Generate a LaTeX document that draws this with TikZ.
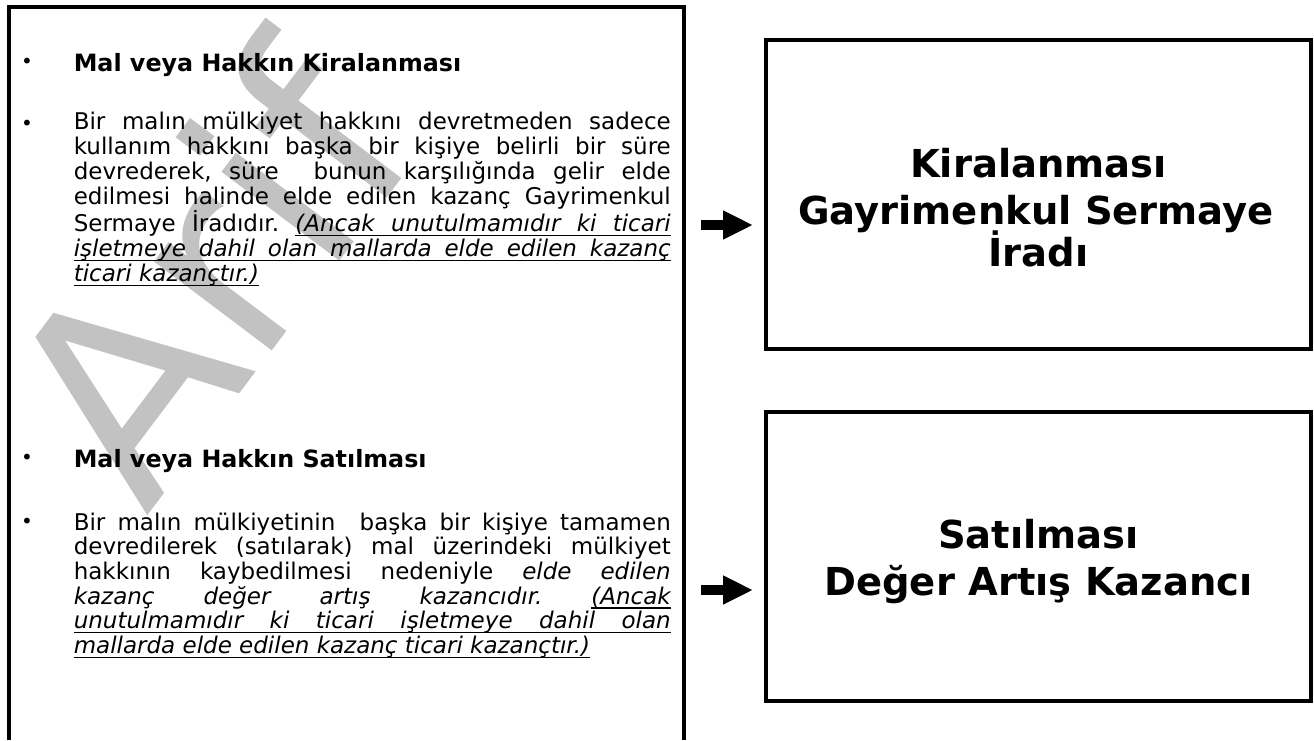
\documentclass[tikz,border=0pt]{standalone}
\usepackage{fontspec}
\setmainfont{DejaVu Sans}
\usetikzlibrary{arrows.meta}
\frenchspacing
\newcommand{\jline}[1]{\makebox[597pt][s]{#1}}
\newcommand{\uw}[1]{\setbox0=\hbox{#1}\rlap{\rule[-4.4pt]{\wd0}{1.4pt}}\box0}
\newcommand{\us}{\leaders\hrule height -3pt depth 4.4pt\hskip\fontdimen2\font plus\fontdimen3\font minus\fontdimen4\font}
\def\ulloop#1 #2\relax{\uw{#1}\ifx\relax#2\relax\else\us\ulloop#2\relax\fi}
\newcommand{\itul}[1]{{\itshape\ulloop#1 \relax}}

\begin{document}
\begin{tikzpicture}[x=1pt,y=-1pt,
  boxline/.style={line width=3.6pt},
  result/.style={draw,line width=3.6pt,inner sep=0pt},
  para/.style={anchor=base west,inner sep=0pt,align=left,font=\fontsize{23}{25}\selectfont},
  head/.style={anchor=base west,inner sep=0pt,font=\fontsize{23.8}{25}\selectfont\bfseries},
  bul/.style={inner sep=0pt,font=\fontsize{20}{22}\selectfont},
  big/.style={anchor=base,inner sep=0pt,font=\fontsize{38.5}{45}\selectfont\bfseries},
  fatarrow/.style={line width=10pt,-{Triangle[length=30pt,width=27pt]}},
  wmark/.style={text=black!24,inner sep=0pt,font=\fontsize{270}{270}\selectfont}]
\useasboundingbox (0,0) rectangle (1314,740);

\node[wmark,rotate=53] (arif) at (205,270) {Arif};

\draw[boxline] (9,740) |- (684,7) -- (684,740);

\node[bul] (b1) at (27,63) {•};
\node[head] (kirahead) at (73.6,71.7) {Mal veya Hakkın Kiralanması};
\node[bul] (b2) at (27,125) {•};
\node[para] (kirapar) at (73.6,281.7) {%
\jline{Bir malın mülkiyet hakkını devretmeden sadece}\\
\jline{kullanım hakkını başka bir kişiye belirli bir süre}\\
\jline{devrederek, süre\ \ bunun karşılığında gelir elde}\\
\jline{edilmesi halinde elde edilen kazanç Gayrimenkul}\\
\jline{Sermaye İradıdır. \itul{(Ancak unutulmamıdır ki ticari}}\\
\jline{\itul{işletmeye dahil olan mallarda elde edilen kazanç}}\\
\itul{ticari kazançtır.)}};

\node[bul] (b3) at (27,459) {•};
\node[head] (sathead) at (73.6,467.7) {Mal veya Hakkın Satılması};
\node[bul] (b4) at (27,523) {•};
\node[para,font=\fontsize{23}{24.7}\selectfont] (satpar) at (73.6,653.5) {%
\jline{Bir malın mülkiyetinin\ \ başka bir kişiye tamamen}\\
\jline{devredilerek (satılarak) mal üzerindeki mülkiyet}\\
\jline{hakkının kaybedilmesi nedeniyle \textit{elde edilen}}\\
\jline{\textit{kazanç değer artış kazancıdır.} \itul{(Ancak}}\\
\jline{\itul{unutulmamıdır ki ticari işletmeye dahil olan}}\\
\itul{mallarda elde edilen kazanç ticari kazançtır.)}};

\node[result,minimum width=545pt,minimum height=309pt] (kirabox) at (1038.5,194.5) {};
\node[big] (kira1) at (1038.5,177) {Kiralanması};
\node[big] (kira2) at (1036,224) {Gayrimenkul Sermaye};
\node[big] (kira3) at (1038.5,266) {İradı};

\node[result,minimum width=545pt,minimum height=289pt] (satbox) at (1038.5,556.5) {};
\node[big] (sat1) at (1038.5,548) {Satılması};
\node[big] (sat2) at (1038.5,595) {Değer Artış Kazancı};

\coordinate (a1s) at (701,225);
\coordinate (a1e) at (753,225);
\coordinate (a2s) at (701,590);
\coordinate (a2e) at (753,590);
\draw[fatarrow] (a1s) -- (a1e);
\draw[fatarrow] (a2s) -- (a2e);
\end{tikzpicture}
\end{document}
